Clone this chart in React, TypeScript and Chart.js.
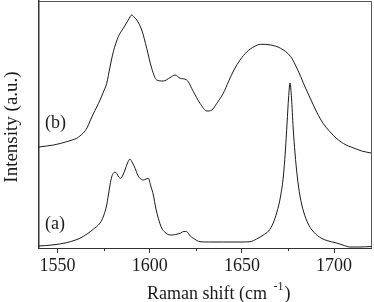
import React, { useEffect, useRef } from "react";
import { Chart, registerables } from "chart.js";

Chart.register(...registerables);

// Spectrum (b) – upper curve
const shiftB = [
  1540, 1544, 1547.8, 1551.5, 1555, 1558, 1560.4, 1562.2, 1564, 1566, 1567.7, 1569.4,
  1571.3, 1573.1, 1574.9, 1576.7, 1578.5, 1580.3, 1583, 1585.7, 1588.4, 1590.3, 1591.5,
  1593, 1595.7, 1598.4, 1601.1, 1603.8, 1607.4, 1611, 1613.8, 1616.5, 1620.1, 1623.7,
  1627.3, 1631, 1633.7, 1636.4, 1639.9, 1642.7, 1645.7, 1649, 1652.8, 1656.6, 1660.2,
  1665.6, 1671, 1676.5, 1679, 1681.9, 1684.5, 1687.5, 1690, 1692.9, 1695.5, 1698.4,
  1701, 1703.8, 1706.5, 1709.2, 1712, 1715, 1720,
];
const intensityB = [
  101, 102, 103, 104.5, 106.3, 108, 109.7, 112, 115, 120, 127, 134,
  141, 148, 156, 164.7, 181, 196.3, 211.3, 219.7, 228, 233, 231,
  228, 218, 199.7, 179.7, 168, 167, 170.3, 173, 169.7, 168, 156.3,
  144.7, 137, 138, 144.7, 154.7, 166.3, 178, 188, 196.3, 201.3, 203.7,
  203, 199.7, 191.3, 183, 171.3, 160, 148, 138, 128, 121, 115,
  110, 106, 103, 101, 99, 97, 95,
];

// Spectrum (a) – lower curve
const shiftA = [
  1540, 1547, 1555, 1559, 1562.2, 1566, 1569.4, 1573.1, 1575, 1576.7, 1577.6, 1578.5,
  1579.4, 1580.3, 1581.2, 1582.1, 1583.2, 1584.3, 1585.5, 1586.6, 1588, 1589.3, 1590.7,
  1592.1, 1593.5, 1594.8, 1596.6, 1598, 1599.3, 1600.6, 1602, 1603.3, 1604.7, 1606.5,
  1608.3, 1610, 1612, 1614, 1616.5, 1618.5, 1620.1, 1622, 1623.7, 1627.3, 1632, 1640,
  1649.5, 1654.4, 1658, 1661.6, 1664.5, 1667, 1669, 1671, 1672.5, 1673.5, 1674.5,
  1675.3, 1676.1, 1676.9, 1677.8, 1678.8, 1680, 1681.5, 1683.5, 1686, 1688, 1692,
  1696, 1701.4, 1705.4, 1708.6, 1714, 1720,
];
const intensityA = [
  2, 3, 5.3, 7.5, 9.7, 14, 18.7, 25, 32, 43, 53, 63,
  71, 74.7, 76, 74.7, 71, 69.7, 73, 78, 85, 89, 85,
  79.7, 73, 69.7, 68, 69, 69.7, 62, 53, 40, 29.7, 20,
  15.7, 13.5, 13, 13.5, 14.7, 16.5, 16.3, 12, 9.7, 6.3, 6, 6,
  6, 6.3, 9, 13, 17, 25, 36, 52, 72, 95, 125,
  150, 165, 150, 120, 95, 72, 52, 36, 24, 18, 11,
  7.5, 5, 2.5, 1, 1, 1.5,
];

const xTickValues = [1550, 1600, 1650, 1700];
const xMinorTickValues = [1575, 1625, 1675];
const curveLabels = ["(a)", "(b)"];
const curveLabelAnchors = [
  { x: 1543.3, y: 24 },
  { x: 1543.3, y: 125 },
];
const xTitle = "Raman shift (cm ";
const xTitleSup = "-1";
const xTitleEnd = ")";
const yTitle = "Intensity (a.u.)";

const FONT = '"Liberation Serif", "Times New Roman", serif';
const INK = "#1a1a1a";
const AXIS = "#333";

export default function App() {
  const ref = useRef<HTMLCanvasElement | null>(null);

  useEffect(() => {
    if (!ref.current) return;

    const decorPlugin = {
      id: "decor",
      afterDraw(chart: any) {
        const { ctx, chartArea: a, scales } = chart;
        const xs = scales.x;
        const ys = scales.y;
        ctx.save();
        // top & right frame
        ctx.strokeStyle = "#555";
        ctx.lineWidth = 1;
        ctx.beginPath();
        ctx.moveTo(a.left, a.top + 0.5);
        ctx.lineTo(a.right + 0.5, a.top + 0.5);
        ctx.lineTo(a.right + 0.5, a.bottom);
        ctx.stroke();
        // minor ticks
        ctx.strokeStyle = AXIS;
        ctx.beginPath();
        xMinorTickValues.forEach((v) => {
          const px = Math.round(xs.getPixelForValue(v)) + 0.5;
          ctx.moveTo(px, a.bottom);
          ctx.lineTo(px, a.bottom + 3);
        });
        ctx.stroke();
        // curve labels
        ctx.fillStyle = INK;
        ctx.font = `18px ${FONT}`;
        ctx.textAlign = "left";
        ctx.textBaseline = "middle";
        curveLabels.forEach((t, i) => {
          const p = curveLabelAnchors[i];
          ctx.fillText(t, xs.getPixelForValue(p.x), ys.getPixelForValue(p.y));
        });
        // x title with superscript
        ctx.textBaseline = "alphabetic";
        let x0 = 147;
        const base = 299;
        ctx.font = `18px ${FONT}`;
        ctx.fillText(xTitle, x0, base);
        x0 += ctx.measureText(xTitle).width + 2;
        ctx.font = `12px ${FONT}`;
        ctx.fillText(xTitleSup, x0, base - 9);
        x0 += ctx.measureText(xTitleSup).width + 1;
        ctx.font = `18px ${FONT}`;
        ctx.fillText(xTitleEnd, x0, base);
        // y title
        ctx.translate(17, 127);
        ctx.rotate(-Math.PI / 2);
        ctx.textAlign = "center";
        ctx.font = `19px ${FONT}`;
        ctx.fillText(yTitle, 0, 0);
        ctx.restore();
      },
    };

    const chart = new Chart(ref.current, {
      type: "line",
      data: {
        datasets: [
          {
            label: "(a)",
            data: shiftA.map((x, i) => ({ x, y: intensityA[i] })),
            borderColor: INK,
            borderWidth: 1,
            pointRadius: 0,
            cubicInterpolationMode: "monotone",
            fill: false,
          },
          {
            label: "(b)",
            data: shiftB.map((x, i) => ({ x, y: intensityB[i] })),
            borderColor: INK,
            borderWidth: 1,
            pointRadius: 0,
            cubicInterpolationMode: "monotone",
            fill: false,
          },
        ],
      },
      options: {
        responsive: false,
        devicePixelRatio: 1,
        animation: false,
        events: [],
        layout: { padding: { top: 1, right: 3, left: 0, bottom: 0 } },
        plugins: { legend: { display: false }, tooltip: { enabled: false } },
        scales: {
          x: {
            type: "linear",
            position: "bottom",
            min: 1540,
            max: 1720,
            afterBuildTicks: (s: any) => {
              s.ticks = xTickValues.map((v) => ({ value: v }));
            },
            afterFit: (s: any) => {
              s.height = 54;
            },
            ticks: {
              autoSkip: false,
              maxRotation: 0,
              padding: 2,
              color: INK,
              font: { family: FONT, size: 18 },
              callback: (v: any) => String(v),
            },
            grid: {
              drawOnChartArea: false,
              drawTicks: true,
              tickLength: 5,
              color: AXIS,
            },
            border: { color: AXIS, width: 1 },
          },
          y: {
            type: "linear",
            min: 0,
            max: 247,
            ticks: { display: false },
            grid: { display: false, drawTicks: false },
            border: { color: AXIS, width: 1.5 },
            afterFit: (s: any) => {
              s.width = 39;
            },
          },
        },
      },
      plugins: [decorPlugin],
    });

    return () => chart.destroy();
  }, []);

  return (
    <div style={{ position: "absolute", left: 0, top: 0, width: 374, height: 302 }}>
      <canvas ref={ref} width={374} height={302} style={{ display: "block" }} />
    </div>
  );
}
